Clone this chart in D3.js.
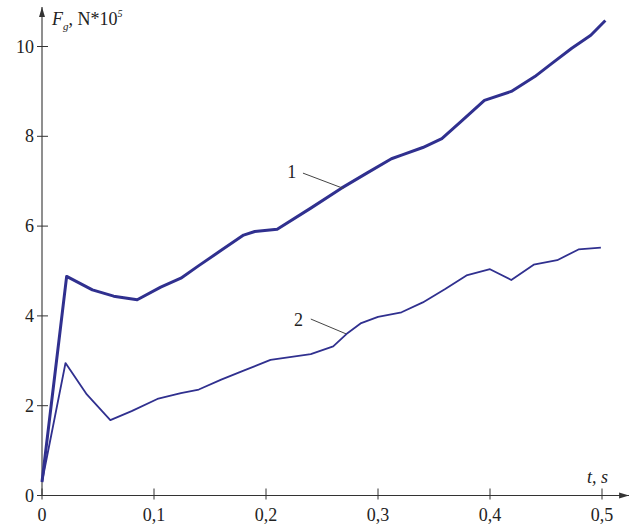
<!DOCTYPE html>
<html>
<head>
<meta charset="utf-8">
<script src="https://cdn.jsdelivr.net/npm/d3@7"></script>
<style>
body { margin: 0; background: #fff; }
</style>
</head>
<body>
<div id="chart"></div>
<script>
// curve 1 (thick) and curve 2
var t1 = [0, 0.022, 0.045, 0.064, 0.085, 0.106, 0.124, 0.14, 0.16, 0.18, 0.19, 0.21, 0.24, 0.267, 0.29, 0.312, 0.321, 0.34, 0.357, 0.375, 0.395, 0.419, 0.44, 0.455, 0.473, 0.49, 0.503];
var f1 = [0.3, 4.88, 4.58, 4.44, 4.36, 4.64, 4.84, 5.12, 5.46, 5.8, 5.88, 5.93, 6.4, 6.84, 7.18, 7.5, 7.58, 7.75, 7.95, 8.35, 8.8, 9.0, 9.33, 9.62, 9.96, 10.25, 10.58];
var t2 = [0, 0.021, 0.04, 0.061, 0.08, 0.103, 0.124, 0.14, 0.16, 0.18, 0.204, 0.24, 0.26, 0.273, 0.285, 0.3, 0.321, 0.34, 0.36, 0.379, 0.4, 0.419, 0.439, 0.46, 0.479, 0.499];
var f2 = [0.3, 2.95, 2.25, 1.68, 1.88, 2.15, 2.28, 2.36, 2.58, 2.78, 3.02, 3.15, 3.32, 3.62, 3.84, 3.98, 4.08, 4.3, 4.6, 4.9, 5.04, 4.8, 5.14, 5.24, 5.48, 5.52];

var xTicks = [0, 0.1, 0.2, 0.3, 0.4, 0.5];
var yTicks = [0, 2, 4, 6, 8, 10];

var w = 631, h = 525;
var ink = "#333";
var lineColor = "#30308f";

var svg = d3.select("#chart").append("svg").attr("width", w).attr("height", h)
    .style("font-family", "'Liberation Serif', 'Times New Roman', serif");

var xScale = d3.scaleLinear().domain([0, 0.5]).range([42, 602]);
var yScale = d3.scaleLinear().domain([0, 10]).range([495.5, 46.5]);

// axes lines with arrows
svg.append("defs").append("marker")
    .attr("id", "arrow").attr("viewBox", "0 0 10 10").attr("refX", 10).attr("refY", 5)
    .attr("markerWidth", 9).attr("markerHeight", 9).attr("orient", "auto")
    .append("path").attr("d", "M0,2 L10,5 L0,8 Z").attr("fill", ink);

svg.append("line").attr("x1", xScale(0)).attr("y1", yScale(0)).attr("x2", 629).attr("y2", yScale(0))
    .attr("stroke", ink).attr("stroke-width", 1.1).attr("marker-end", "url(#arrow)");
svg.append("line").attr("x1", xScale(0)).attr("y1", yScale(0)).attr("x2", xScale(0)).attr("y2", 7)
    .attr("stroke", ink).attr("stroke-width", 1.1).attr("marker-end", "url(#arrow)");

// ticks (crossing the axis)
svg.selectAll(".xt").data(xTicks).enter().append("line")
    .attr("x1", function (d) { return xScale(d); }).attr("x2", function (d) { return xScale(d); })
    .attr("y1", yScale(0) - 7).attr("y2", yScale(0) + 4)
    .attr("stroke", ink).attr("stroke-width", 1);
svg.selectAll(".xl").data(xTicks).enter().append("text")
    .attr("x", function (d) { return xScale(d); }).attr("y", 521)
    .attr("text-anchor", "middle").attr("font-size", "18px").attr("fill", "#222")
    .text(function (d) { return d === 0 ? "0" : String(d).replace(".", ","); });

svg.selectAll(".yt").data(yTicks).enter().append("line")
    .attr("x1", xScale(0) - 5).attr("x2", xScale(0) + 6)
    .attr("y1", function (d) { return yScale(d); }).attr("y2", function (d) { return yScale(d); })
    .attr("stroke", ink).attr("stroke-width", 1);
svg.selectAll(".yl").data(yTicks).enter().append("text")
    .attr("x", xScale(0) - 8).attr("y", function (d) { return yScale(d) + 6; })
    .attr("text-anchor", "end").attr("font-size", "18px").attr("fill", "#222")
    .text(function (d) { return d; });

// axis titles
var yt = svg.append("text").attr("x", 52).attr("y", 25).attr("font-size", "18px").attr("fill", "#222");
yt.append("tspan").attr("font-style", "italic").text("F");
yt.append("tspan").attr("font-style", "italic").attr("font-size", "11px").attr("dy", 5).text("g");
yt.append("tspan").attr("dy", -5).text(", N*10");
yt.append("tspan").attr("font-size", "10px").attr("font-style", "italic").attr("dy", -8).text("5");

svg.append("text").attr("x", 587).attr("y", 483).attr("font-size", "18px").attr("font-style", "italic")
    .attr("fill", "#222").text("t, s");

// curves
var line = d3.line()
    .x(function (d) { return xScale(d[0]); })
    .y(function (d) { return yScale(d[1]); });

svg.append("path").datum(d3.zip(t2, f2)).attr("d", line)
    .attr("fill", "none").attr("stroke", lineColor).attr("stroke-width", 1.8).attr("stroke-linejoin", "round");
svg.append("path").datum(d3.zip(t1, f1)).attr("d", line)
    .attr("fill", "none").attr("stroke", lineColor).attr("stroke-width", 3).attr("stroke-linejoin", "round");

// curve labels with leader lines
var labels = [
    { text: "1", x: 0.227, y: 7.2, lx1: 0.233, ly1: 7.18, lx2: 0.269, ly2: 6.84 },
    { text: "2", x: 0.233, y: 3.9, lx1: 0.240, ly1: 3.93, lx2: 0.2715, ly2: 3.6 }
];
labels.forEach(function (d) {
    svg.append("text").attr("x", xScale(d.x)).attr("y", yScale(d.y) + 6)
        .attr("text-anchor", "end").attr("font-size", "18px").attr("fill", "#222").text(d.text);
    svg.append("line").attr("x1", xScale(d.lx1)).attr("y1", yScale(d.ly1))
        .attr("x2", xScale(d.lx2)).attr("y2", yScale(d.ly2))
        .attr("stroke", "#444").attr("stroke-width", 1);
});
</script>
</body>
</html>
